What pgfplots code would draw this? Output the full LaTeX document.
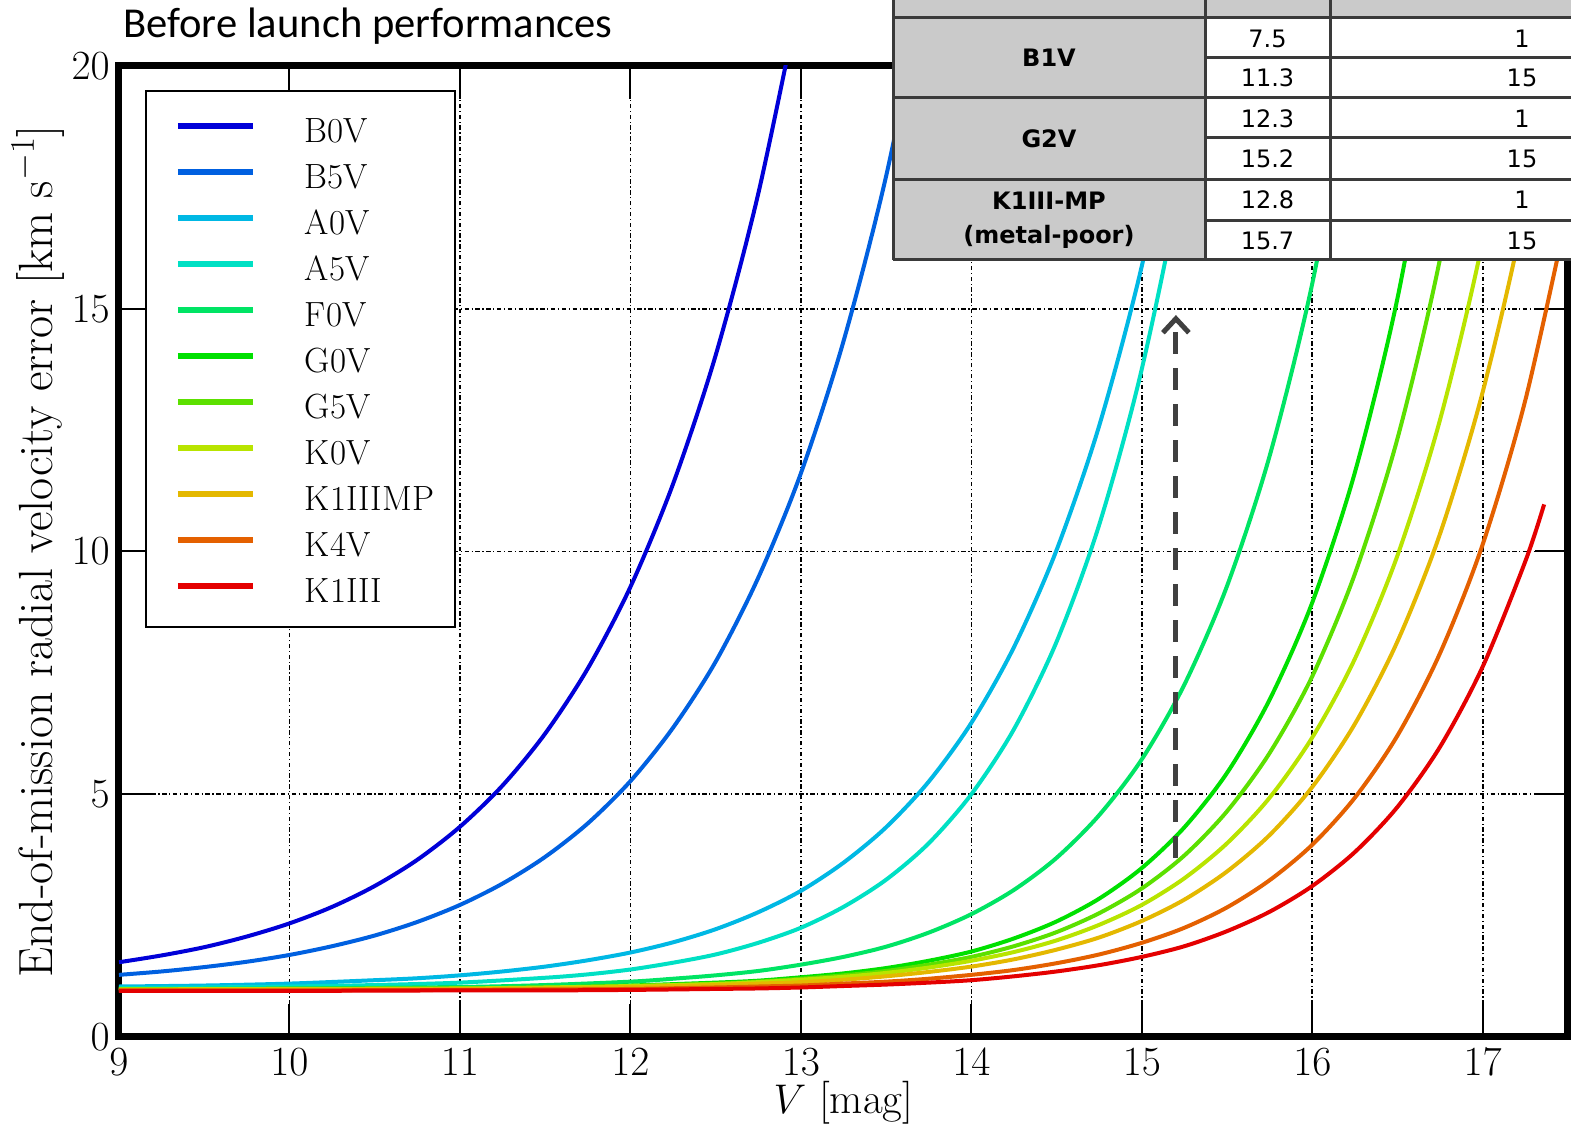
\documentclass[border=0pt]{standalone}
\usepackage{fontspec}
\usepackage{pgfplots}
\pgfplotsset{compat=1.18}
\usetikzlibrary{arrows.meta}
\newfontfamily\titlefont{Carlito}
\newfontfamily\tablefont{DejaVu Sans}

% spectral-type colours (jet-like sequence)
\definecolor{cB0V}{RGB}{0,0,216}
\definecolor{cB5V}{RGB}{0,96,224}
\definecolor{cA0V}{RGB}{0,184,228}
\definecolor{cA5V}{RGB}{0,224,196}
\definecolor{cF0V}{RGB}{0,228,100}
\definecolor{cG0V}{RGB}{0,224,0}
\definecolor{cG5V}{RGB}{92,224,0}
\definecolor{cK0V}{RGB}{184,228,0}
\definecolor{cK1IIIMP}{RGB}{228,184,0}
\definecolor{cK4V}{RGB}{228,96,0}
\definecolor{cK1III}{RGB}{228,0,0}
\definecolor{arrowgray}{RGB}{64,64,64}
\definecolor{cellgray}{RGB}{202,202,202}
\definecolor{rulegray}{RGB}{58,58,58}

\begin{document}
\begin{tikzpicture}[x=1pt,y=1pt]

\begin{axis}[
  scale only axis, width=724.5pt, height=485.5pt,
  xmin=9, xmax=17.5, ymin=0, ymax=20,
  xtick={9,10,...,17}, ytick={0,5,10,15,20},
  grid=major,
  major grid style={black, line width=0.8pt, dash pattern=on 2.2pt off 1.3pt on 0.6pt off 1.3pt},
  axis line style={line width=3.5pt, line cap=rect},
  tick align=inside, major tick length=16.5pt,
  every tick/.style={black, line width=1pt},
  tick label style={font=\fontsize{21.5}{24}\selectfont},
  xticklabel style={inner sep=0pt, yshift=-5.5pt},
  yticklabel style={inner sep=0pt, xshift=-4.5pt},
  xlabel={$V$ [mag]},
  ylabel={End-of-mission radial velocity error [km s$^{-1}$]},
  xlabel style={font=\fontsize{21.5}{24}\selectfont, at={(axis description cs:0.5,-0.0675)}, anchor=center},
  ylabel style={font=\fontsize{24}{26}\selectfont, at={(axis description cs:-0.056,0.5)}, anchor=center},
  legend style={at={(0.0179,0.9753)}, anchor=north west, draw=black, line width=1pt,
    fill=white, font=\fontsize{17.5}{20}\selectfont, inner xsep=8.5pt, inner ysep=8pt,
    row sep=1pt, column sep=22.5pt,
    nodes={inner sep=2pt, text height=16pt, text depth=2pt}},
  legend cell align=left,
  legend image code/.code={\path[draw=none, fill=none] (0pt,-6pt) rectangle (0.1pt,6pt);
    \draw[#1, line width=3pt] (7.5pt,1.5pt) -- (45pt,1.5pt);},
]

\addplot[cB0V, line width=2pt, smooth] coordinates {
 (9,1.54) (9.25,1.68) (9.5,1.85) (9.75,2.07) (10,2.34) (10.25,2.68) (10.5,3.11)
 (10.75,3.65) (11,4.33) (11.25,5.18) (11.5,6.25) (11.75,7.59) (12,9.27) (12.25,11.39)
 (12.5,14.04) (12.75,17.37) (13,21.55)};
\addlegendentry{B0V}

\addplot[cB5V, line width=2pt, smooth] coordinates {
 (9,1.28) (9.25,1.35) (9.5,1.44) (9.75,1.55) (10,1.69) (10.25,1.87) (10.5,2.09)
 (10.75,2.37) (11,2.72) (11.25,3.16) (11.5,3.71) (11.75,4.40) (12,5.27) (12.25,6.37)
 (12.5,7.73) (12.75,9.46) (13,11.61) (13.25,14.33) (13.5,17.73) (13.75,22.0)};
\addlegendentry{B5V}

\addplot[cA0V, line width=2pt, smooth] coordinates {
 (9,1.04) (9.5,1.06) (10,1.10) (10.5,1.17) (10.75,1.21) (11,1.27) (11.25,1.35)
 (11.5,1.45) (11.75,1.58) (12,1.74) (12.25,1.95) (12.5,2.22) (12.75,2.57) (13,3.01)
 (13.25,3.59) (13.5,4.32) (13.75,5.26) (14,6.47) (14.25,8.03) (14.5,10.03) (14.75,12.59)
 (15,15.88) (15.25,20.1)};
\addlegendentry{A0V}

\addplot[cA5V, line width=2pt, smooth] coordinates {
 (9,1.01) (9.5,1.02) (10,1.04) (10.5,1.07) (11,1.12) (11.5,1.22) (11.75,1.29)
 (12,1.39) (12.25,1.53) (12.5,1.70) (12.75,1.94) (13,2.25) (13.25,2.68) (13.5,3.24)
 (13.75,3.99) (14,5.0) (14.25,6.34) (14.5,8.14) (14.75,10.55) (15,13.76) (15.25,18.05)
 (15.5,23.8)};
\addlegendentry{A5V}

\addplot[cF0V, line width=2pt, smooth] coordinates {
 (9,0.99) (10,1.00) (11,1.03) (11.5,1.07) (12,1.14) (12.25,1.20) (12.5,1.27)
 (12.75,1.36) (13,1.49) (13.25,1.65) (13.5,1.86) (13.75,2.15) (14,2.53) (14.25,3.03)
 (14.5,3.69) (14.75,4.57) (15,5.72) (15.25,7.26) (15.5,9.29) (15.75,11.97) (16,15.52)
 (16.25,20.22)};
\addlegendentry{F0V}

\addplot[cG0V, line width=2pt, smooth] coordinates {
 (9,0.98) (10,0.99) (11,1.00) (11.5,1.02) (12,1.06) (12.5,1.12) (12.75,1.16)
 (13,1.23) (13.25,1.31) (13.5,1.42) (13.75,1.57) (14,1.76) (14.25,2.03) (14.5,2.38)
 (14.75,2.85) (15,3.48) (15.25,4.32) (15.5,5.44) (15.75,6.95) (16,8.95) (16.25,11.63)
 (16.5,15.22) (16.75,20.01)};
\addlegendentry{G0V}

\addplot[cG5V, line width=2pt, smooth] coordinates {
 (9,0.98) (10,0.99) (11,1.00) (11.5,1.02) (12,1.05) (12.5,1.10) (12.75,1.14)
 (13,1.20) (13.25,1.27) (13.5,1.36) (13.75,1.49) (14,1.65) (14.25,1.87) (14.5,2.16)
 (14.75,2.55) (15,3.06) (15.25,3.74) (15.5,4.65) (15.75,5.85) (16,7.43) (16.25,9.54)
 (16.5,12.33) (16.75,16.04) (17,20.96)};
\addlegendentry{G5V}

\addplot[cK0V, line width=2pt, smooth] coordinates {
 (9,0.98) (10,0.99) (11,1.00) (11.5,1.02) (12,1.05) (12.5,1.09) (12.75,1.13)
 (13,1.18) (13.25,1.24) (13.5,1.32) (13.75,1.43) (14,1.57) (14.25,1.75) (14.5,1.99)
 (14.75,2.31) (15,2.72) (15.25,3.27) (15.5,3.99) (15.75,4.93) (16,6.17) (16.25,7.79)
 (16.5,9.92) (16.75,12.72) (17,16.40) (17.25,21.23)};
\addlegendentry{K0V}

\addplot[cK1IIIMP, line width=2pt, smooth] coordinates {
 (9,0.97) (10,0.98) (11,0.99) (11.5,1.00) (12,1.03) (12.5,1.07) (12.75,1.10)
 (13,1.13) (13.25,1.18) (13.5,1.25) (13.75,1.34) (14,1.45) (14.25,1.60) (14.5,1.80)
 (14.75,2.05) (15,2.39) (15.25,2.83) (15.5,3.41) (15.75,4.16) (16,5.15) (16.25,6.45)
 (16.5,8.15) (16.75,10.37) (17,13.29) (17.25,17.10) (17.5,22.11)};
\addlegendentry{K1IIIMP}

\addplot[cK4V, line width=2pt, smooth] coordinates {
 (9,0.96) (10,0.96) (11,0.97) (11.5,0.98) (12,0.99) (12.5,1.02) (12.75,1.04)
 (13,1.06) (13.25,1.10) (13.5,1.14) (13.75,1.20) (14,1.28) (14.25,1.38) (14.5,1.52)
 (14.75,1.70) (15,1.94) (15.25,2.25) (15.5,2.67) (15.75,3.23) (16,3.96) (16.25,4.93)
 (16.5,6.21) (16.75,7.91) (17,10.15) (17.25,13.12) (17.5,17.05)};
\addlegendentry{K4V}

\addplot[cK1III, line width=2pt, smooth] coordinates {
 (9,0.95) (10,0.95) (11,0.96) (11.5,0.96) (12,0.97) (12.5,0.99) (12.75,1.00)
 (13,1.02) (13.25,1.05) (13.5,1.08) (13.75,1.12) (14,1.17) (14.25,1.25) (14.5,1.35)
 (14.75,1.48) (15,1.65) (15.25,1.87) (15.5,2.18) (15.75,2.58) (16,3.11) (16.25,3.81)
 (16.5,4.74) (16.75,5.98) (17,7.63) (17.25,9.80) (17.36,10.97)};
\addlegendentry{K1III}

% G2V limiting magnitude marker: V = 15.2 reaches 15 km/s
\addplot[forget plot, arrowgray, line width=2.5pt, dash pattern=on 11pt off 7pt,
  -{Straight Barb[length=7pt,width=13pt]}] coordinates {(15.2,3.69) (15.2,14.87)};

\coordinate (O) at (rel axis cs:0,0);
\end{axis}

% page frame, measured from the lower left corner of the axis box
\pgfresetboundingbox
\begin{scope}[shift={(O)}, xshift=-59.5pt, yshift=-44pt]
  \path[use as bounding box] (0,0) rectangle (785.5,562.5);
  \clip (0,0) rectangle (785.5,562.5);

  % performance table (top right)
  \fill[white] (446.5,432.5) rectangle (790,570);
  \fill[cellgray] (446.5,432.5) rectangle (602.5,570);
  \fill[cellgray] (446.5,553.5) rectangle (790,570);
  \draw[rulegray, line width=1.5pt]
    (446.5,553.5) -- (790,553.5)
    (446.5,513.5) -- (790,513.5)
    (446.5,472.5) -- (790,472.5)
    (446.5,432.5) -- (790,432.5)
    (602.5,533.5) -- (790,533.5)
    (602.5,493.5) -- (790,493.5)
    (602.5,452) -- (790,452)
    (446.5,432.5) -- (446.5,570)
    (602.5,432.5) -- (602.5,570)
    (665,432.5) -- (665,570);
  \begin{scope}[every node/.style={font=\tablefont\bfseries\fontsize{12}{17}\selectfont, align=center}]
    \node at (524.5,533.5) {B1V};
    \node at (524.5,493) {G2V};
    \node at (524.5,452.5) {K1III-MP\\(metal-poor)};
  \end{scope}
  \begin{scope}[every node/.style={font=\tablefont\fontsize{12}{14}\selectfont}]
    \node at (633.75,543) {7.5};
    \node at (633.75,523.5) {11.3};
    \node at (633.75,503) {12.3};
    \node at (633.75,483) {15.2};
    \node at (633.75,462.5) {12.8};
    \node at (633.75,442) {15.7};
    \node at (761,543) {1};
    \node at (761,523.5) {15};
    \node at (761,503) {1};
    \node at (761,483) {15};
    \node at (761,462.5) {1};
    \node at (761,442) {15};
  \end{scope}

  \node[anchor=base west, inner sep=0pt, font=\titlefont\fontsize{21.3}{24}\selectfont]
    at (61.5,543.5) {Before launch performances};
\end{scope}
\end{tikzpicture}
\end{document}
